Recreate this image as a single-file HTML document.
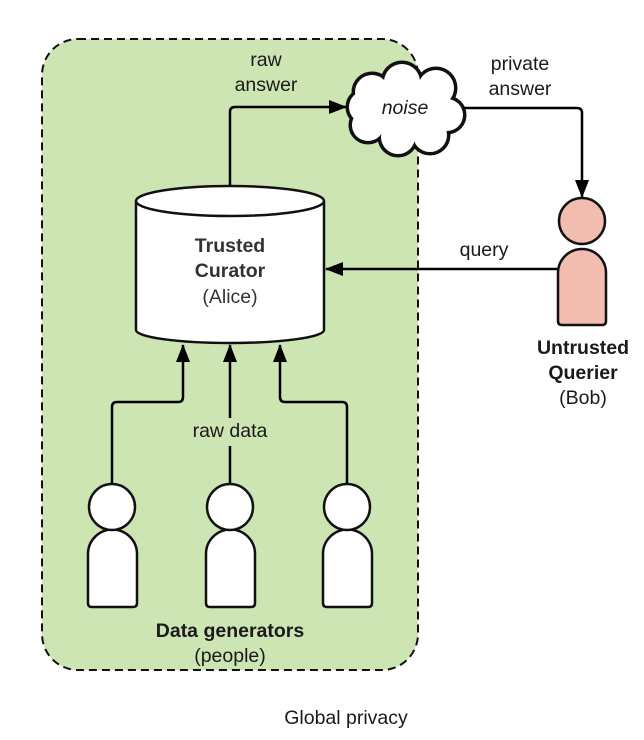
<!DOCTYPE html>
<html><head><meta charset="utf-8"><style>
html,body{margin:0;padding:0;background:#fff;}
svg{display:block;}
text{font-family:"Liberation Sans",Arial,sans-serif;fill:#1a1a1a;}
</style></head><body>
<svg width="644" height="740" viewBox="0 0 644 740" xmlns="http://www.w3.org/2000/svg">
<defs>
<marker id="ah2" markerWidth="18" markerHeight="14" refX="17" refY="7" orient="auto" markerUnits="userSpaceOnUse">
<path d="M0,0 L18,7 L0,14 z" fill="#000"/></marker>
</defs>
<rect x="42" y="39" width="376" height="631" rx="36" fill="#cde4b3" stroke="#111" stroke-width="2" stroke-dasharray="8,5"/>

<path d="M230,186 L230,112 Q230,107 235,107 L346,107" fill="none" stroke="#000" stroke-width="2.5" marker-end="url(#ah2)"/>
<text x="266" y="66" font-size="19.5" text-anchor="middle">raw</text>
<text x="266" y="91" font-size="19.5" text-anchor="middle">answer</text>

<g stroke="#111" stroke-width="5" fill="#fff">
<circle cx="372" cy="92" r="18"/><circle cx="402" cy="82" r="19"/><circle cx="436" cy="88" r="19"/>
<circle cx="447" cy="115" r="17"/><circle cx="430" cy="135" r="18"/><circle cx="398" cy="137" r="18"/>
<circle cx="368" cy="125" r="17"/><circle cx="365" cy="107" r="17"/>
</g>
<g fill="#fff">
<circle cx="372" cy="92" r="17"/><circle cx="402" cy="82" r="18"/><circle cx="436" cy="88" r="18"/>
<circle cx="447" cy="115" r="16"/><circle cx="430" cy="135" r="17"/><circle cx="398" cy="137" r="17"/>
<circle cx="368" cy="125" r="16"/><circle cx="365" cy="107" r="16"/>
<ellipse cx="405" cy="108" rx="40" ry="30"/>
</g>
<text x="405" y="114" font-size="19.5" font-style="italic" text-anchor="middle">noise</text>

<path d="M463,108 L577,108 Q582,108 582,113 L582,197" fill="none" stroke="#000" stroke-width="2.5" marker-end="url(#ah2)"/>
<text x="520" y="70" font-size="19.5" text-anchor="middle">private</text>
<text x="520" y="95" font-size="19.5" text-anchor="middle">answer</text>

<g fill="#f3bcb0" stroke="#111" stroke-width="2.5">
<path d="M558,321 L558,273 A24,24 0 0 1 606,273 L606,321 Q606,325 602,325 L562,325 Q558,325 558,321 z"/>
<circle cx="582" cy="221" r="23"/>
</g>
<path d="M557,269 L326,269" fill="none" stroke="#000" stroke-width="2.5" marker-end="url(#ah2)"/>
<text x="484" y="256" font-size="19.5" text-anchor="middle">query</text>
<text x="583" y="354" font-size="19.5" font-weight="bold" text-anchor="middle">Untrusted</text>
<text x="583" y="379" font-size="19.5" font-weight="bold" text-anchor="middle">Querier</text>
<text x="583" y="404" font-size="19.5" text-anchor="middle">(Bob)</text>

<path d="M136,201 L136,330 A94,13 0 0 0 324,330 L324,201" fill="#fff" stroke="#111" stroke-width="2.5"/>
<ellipse cx="230" cy="201" rx="94" ry="15" fill="#fff" stroke="#111" stroke-width="2.5"/>
<text x="230" y="252" font-size="19.5" font-weight="bold" text-anchor="middle" style="fill:#333">Trusted</text>
<text x="230" y="277" font-size="19.5" font-weight="bold" text-anchor="middle" style="fill:#333">Curator</text>
<text x="230" y="303" font-size="19.5" text-anchor="middle" style="fill:#333">(Alice)</text>

<g fill="none" stroke="#000" stroke-width="2.5">
<path d="M112,484 L112,407 Q112,402 117,402 L178,402 Q183,402 183,397 L183,345" marker-end="url(#ah2)"/>
<path d="M230,484 L230,446 M230,418 L230,345" marker-end="url(#ah2)"/>
<path d="M347,484 L347,407 Q347,402 342,402 L285,402 Q280,402 280,397 L280,345" marker-end="url(#ah2)"/>
</g>
<text x="230" y="437" font-size="19.5" text-anchor="middle">raw data</text>

<g fill="#fff" stroke="#111" stroke-width="2.5">
<path d="M88,603 L88,554 A24.5,24.5 0 0 1 137,554 L137,603 Q137,607 133,607 L92,607 Q88,607 88,603 z"/>
<circle cx="112" cy="507" r="23"/>
<path d="M206,603 L206,554 A24.5,24.5 0 0 1 255,554 L255,603 Q255,607 251,607 L210,607 Q206,607 206,603 z"/>
<circle cx="230" cy="507" r="23"/>
<path d="M323,603 L323,554 A24.5,24.5 0 0 1 372,554 L372,603 Q372,607 368,607 L327,607 Q323,607 323,603 z"/>
<circle cx="347" cy="507" r="23"/>
</g>
<text x="230" y="637" font-size="19.5" font-weight="bold" text-anchor="middle">Data generators</text>
<text x="230" y="662" font-size="19.5" text-anchor="middle">(people)</text>

<text x="346" y="724" font-size="19.5" text-anchor="middle">Global privacy</text>
</svg>
</body></html>
